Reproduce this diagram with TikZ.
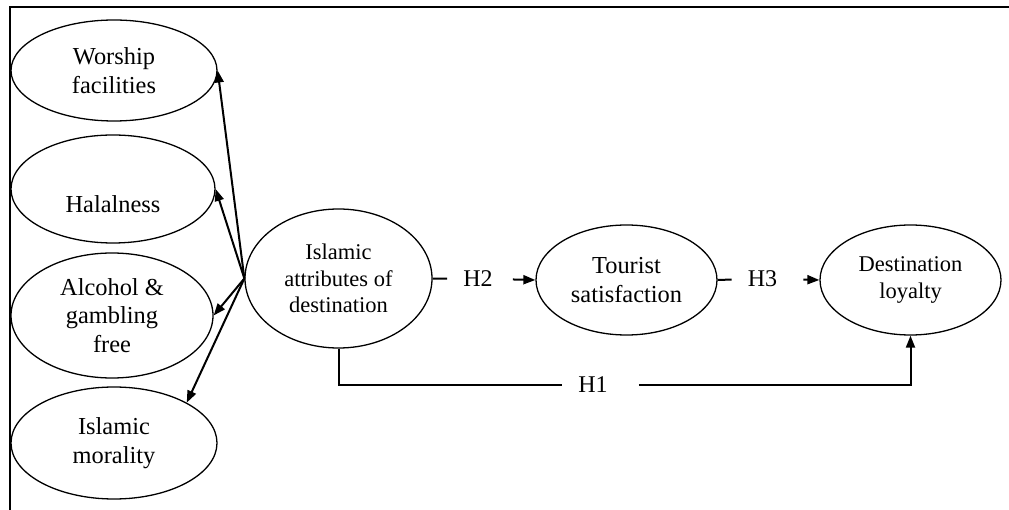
\documentclass[tikz,border=0pt]{standalone}
\usepackage{fontspec}
\setmainfont{Liberation Serif}
\usetikzlibrary{shapes.geometric,arrows.meta}
\begin{document}
\begin{tikzpicture}[x=1pt,y=1pt,
  ell/.style={draw, ellipse, inner sep=0pt, line width=1.3pt, align=center,
    font=\fontsize{24.4}{28.5}\selectfont},
  ellsmall/.style={ell, font=\fontsize{22.5}{26.5}\selectfont},
  lbl/.style={inner sep=0pt, font=\fontsize{24.4}{28.5}\selectfont},
  hlbl/.style={inner sep=0pt, font=\fontsize{24}{28}\selectfont},
  conn/.style={line width=2pt},
  arr/.style={conn, -{Triangle[length=12pt,width=9pt]}},
  frame/.style={line width=1.6pt}]
\useasboundingbox (0,0) rectangle (1009,-510);
% frame
\coordinate (ftr) at (1009,-7);
\coordinate (ftl) at (10,-7);
\coordinate (fbl) at (10,-510);
\draw[frame] (ftr) -- (ftl) -- (fbl);
% indicator ellipses
\node[ell, minimum width=206pt, minimum height=101pt] (wor) at (114,-70.5) {Worship\\facilities};
\node[ell, minimum width=204pt, minimum height=108pt] (hal) at (113,-189) {};
\node[lbl] (halt) at (113,-204.5) {Halalness};
\node[ell, minimum width=202pt, minimum height=125pt] (alc) at (112,-315.5) {Alcohol \&\\gambling\\free};
\node[ell, minimum width=206pt, minimum height=112pt] (mor) at (114,-443) {Islamic\\morality};
% main constructs
\node[ellsmall, minimum width=187pt, minimum height=139pt] (isl) at (338.5,-278.5) {Islamic\\attributes of\\destination};
\node[ell, minimum width=181pt, minimum height=110pt] (tour) at (626.5,-280) {Tourist\\satisfaction};
\node[ellsmall, minimum width=181pt, minimum height=110pt] (loy) at (910.5,-280) {Destination\\loyalty};
% hypothesis labels
\node[hlbl] (h2) at (478,-279) {H2};
\node[hlbl] (h3) at (762.5,-279) {H3};
\node[hlbl] (h1) at (593,-385) {H1};
% indicator arrows
\draw[arr] (isl.west) -- (wor.east);
\draw[arr] (isl.west) -- (hal.east);
\draw[arr] (isl.west) -- (alc.east);
\draw[arr] (isl.west) -- (mor.29);
% structural paths
\draw[conn, shorten >=16pt] (isl.east) -- (h2.west);
\draw[arr, shorten <=20pt] (h2.east) -- (tour.west);
\draw[conn, shorten >=16pt] (tour.east) -- (h3.west);
\draw[arr, shorten <=26pt] (h3.east) -- (loy.west);
\coordinate (c1) at (338.5,-385);
\coordinate (c2) at (910.5,-385);
\draw[conn, shorten >=16pt] (isl.south) -- (c1) -- (h1.west);
\draw[arr, shorten <=31pt] (h1.east) -- (c2) -- (loy.south);
\end{tikzpicture}
\end{document}
